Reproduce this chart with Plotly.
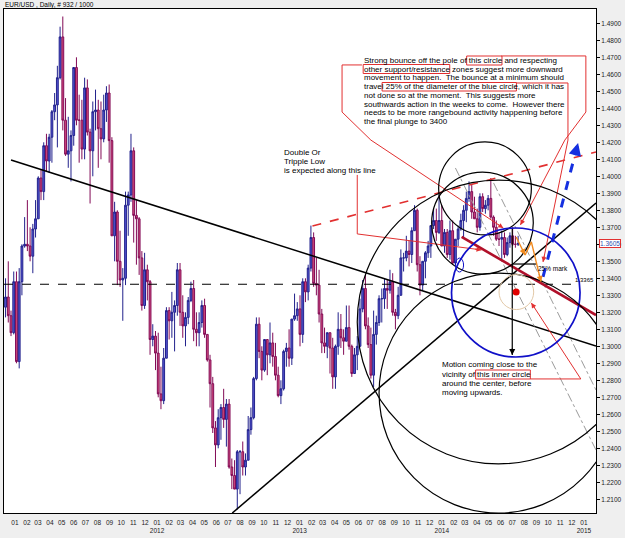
import plotly.graph_objects as go
import pandas as pd

# ---------------- price data (weekly OHLC, EUR/USD) ----------------
OPEN = [1.3230,1.3290,1.3180,1.3080,1.3380,1.2910,1.3380,1.3590,1.3600,1.3590,1.3530,1.3690,1.3750,1.3990,1.3910,1.4180,1.4090,1.4230,1.4380,1.4420,1.4580,1.4820,1.4330,1.4130,1.4150,1.4240,1.4640,1.4330,1.4330,1.4160,1.4520,1.4260,1.4150,1.4380,1.4390,1.4280,1.4220,1.4390,1.4490,1.4210,1.3650,1.3790,1.3500,1.3390,1.3400,1.3830,1.3890,1.4150,1.3770,1.3750,1.3520,1.3240,1.3450,1.3380,1.3040,1.3060,
        1.2960,1.2720,1.2680,1.2930,1.3210,1.3150,1.3200,1.3240,1.3450,1.3200,1.3120,1.3170,1.3270,1.3340,1.3100,1.3080,1.3140,1.3240,1.3070,1.2920,1.2780,1.2520,1.2420,1.2580,1.2640,1.2570,1.2660,1.2290,1.2240,1.2160,1.2380,1.2380,1.2290,1.2330,1.2510,1.2580,1.2810,1.3130,1.2970,1.2860,1.3040,1.2950,1.3020,1.2940,1.2830,1.2710,1.2750,1.2970,1.2990,1.2930,1.3160,1.3180,1.3220,
        1.3070,1.3380,1.3320,1.3460,1.3640,1.3370,1.3360,1.3190,1.3020,1.3000,1.3080,1.2990,1.2820,1.3000,1.3100,1.3050,1.3030,1.3110,1.3000,1.2840,1.2950,1.3000,1.3220,1.3340,1.3120,1.3010,1.2830,1.3070,1.3140,1.3280,1.3280,1.3340,1.3330,1.3380,1.3200,1.3180,1.3300,1.3520,1.3520,1.3560,1.3540,1.3680,1.3800,1.3480,1.3360,1.3500,1.3550,1.3590,1.3710,1.3740,1.3670,1.3740,
        1.3590,1.3670,1.3540,1.3680,1.3490,1.3630,1.3690,1.3740,1.3800,1.3870,1.3910,1.3790,1.3750,1.3700,1.3880,1.3810,1.3830,1.3870,1.3760,1.3700,1.3630,1.3630,1.3640,1.3540,1.3610,1.3650,1.3600,1.3600]
HIGH = [1.3400,1.3500,1.3210,1.3440,1.3440,1.3460,1.3600,1.3760,1.3860,1.3700,1.3720,1.3860,1.4000,1.4040,1.4200,1.4250,1.4250,1.4390,1.4490,1.4650,1.4880,1.4940,1.4460,1.4350,1.4270,1.4640,1.4700,1.4480,1.4450,1.4580,1.4570,1.4280,1.4440,1.4510,1.4450,1.4440,1.4480,1.4530,1.4540,1.4230,1.3850,1.3800,1.3680,1.3460,1.3910,1.3910,1.4250,1.4170,1.3860,1.3760,1.3560,1.3550,1.3480,1.3390,1.3130,1.3090,
        1.3080,1.2880,1.2990,1.3230,1.3230,1.3320,1.3270,1.3490,1.3490,1.3300,1.3200,1.3290,1.3380,1.3390,1.3200,1.3200,1.3270,1.3280,1.3070,1.2950,1.2820,1.2560,1.2630,1.2660,1.2750,1.2690,1.2690,1.2340,1.2330,1.2390,1.2390,1.2440,1.2370,1.2590,1.2640,1.2820,1.3170,1.3170,1.3000,1.3040,1.3040,1.3140,1.3080,1.3020,1.2880,1.2800,1.2980,1.3020,1.3100,1.3160,1.3310,1.3260,1.3300,
        1.3400,1.3400,1.3480,1.3710,1.3670,1.3520,1.3450,1.3220,1.3110,1.3080,1.3080,1.3050,1.3010,1.3200,1.3190,1.3100,1.3240,1.3240,1.3010,1.2990,1.3060,1.3280,1.3390,1.3420,1.3170,1.3110,1.3210,1.3180,1.3300,1.3340,1.3400,1.3390,1.3450,1.3430,1.3220,1.3350,1.3570,1.3550,1.3650,1.3620,1.3700,1.3830,1.3810,1.3530,1.3500,1.3560,1.3620,1.3710,1.3810,1.3810,1.3890,1.3830,
        1.3690,1.3690,1.3740,1.3740,1.3630,1.3710,1.3780,1.3830,1.3910,1.3970,1.3950,1.3880,1.3810,1.3900,1.3900,1.3860,1.3890,1.3990,1.3770,1.3740,1.3670,1.3680,1.3670,1.3640,1.3670,1.3700,1.3650,1.3650]
LOW = [1.3170,1.3140,1.3060,1.3070,1.2900,1.2870,1.3300,1.3580,1.3560,1.3500,1.3430,1.3640,1.3750,1.3860,1.3860,1.4030,1.4020,1.4080,1.4330,1.4170,1.4570,1.4270,1.4120,1.4050,1.3970,1.4180,1.4300,1.4080,1.4100,1.4100,1.4240,1.3840,1.4000,1.4270,1.4050,1.4100,1.4200,1.4320,1.4080,1.3650,1.3500,1.3360,1.3350,1.3150,1.3360,1.3650,1.3850,1.3610,1.3480,1.3420,1.3210,1.3220,1.3270,1.2950,1.3000,1.2860,
       1.2700,1.2630,1.2660,1.2930,1.3040,1.3050,1.2970,1.3180,1.3120,1.3050,1.3000,1.3130,1.3260,1.3030,1.3000,1.3000,1.3110,1.3050,1.2910,1.2640,1.2490,1.2290,1.2400,1.2450,1.2520,1.2410,1.2280,1.2160,1.2160,1.2040,1.2130,1.2240,1.2240,1.2330,1.2480,1.2570,1.2800,1.2930,1.2800,1.2850,1.2830,1.2900,1.2880,1.2800,1.2700,1.2660,1.2740,1.2880,1.2880,1.2890,1.3150,1.3150,1.3000,
       1.3020,1.3260,1.3270,1.3440,1.3350,1.3300,1.3140,1.2960,1.2960,1.2930,1.2840,1.2750,1.2750,1.2950,1.2990,1.2950,1.3030,1.2980,1.2820,1.2840,1.2860,1.3000,1.3200,1.3100,1.2990,1.2810,1.2760,1.3010,1.3120,1.3140,1.3220,1.3220,1.3310,1.3180,1.3100,1.3160,1.3300,1.3440,1.3500,1.3470,1.3490,1.3680,1.3440,1.3300,1.3330,1.3400,1.3520,1.3520,1.3690,1.3620,1.3660,1.3590,
       1.3550,1.3520,1.3510,1.3480,1.3480,1.3590,1.3680,1.3640,1.3730,1.3850,1.3750,1.3750,1.3670,1.3680,1.3790,1.3780,1.3800,1.3750,1.3650,1.3620,1.3590,1.3500,1.3520,1.3530,1.3580,1.3590,1.3580,1.3590]
CLOSE = [1.3290,1.3180,1.3080,1.3380,1.2910,1.3380,1.3590,1.3600,1.3590,1.3530,1.3690,1.3750,1.3990,1.3910,1.4180,1.4090,1.4230,1.4380,1.4420,1.4580,1.4820,1.4330,1.4130,1.4150,1.4240,1.4640,1.4330,1.4330,1.4160,1.4520,1.4260,1.4150,1.4380,1.4390,1.4280,1.4220,1.4390,1.4490,1.4210,1.3650,1.3790,1.3500,1.3390,1.3400,1.3830,1.3890,1.4150,1.3770,1.3750,1.3520,1.3240,1.3450,1.3380,1.3040,1.3060,1.2960,
         1.2720,1.2680,1.2930,1.3210,1.3150,1.3200,1.3240,1.3450,1.3200,1.3120,1.3170,1.3270,1.3340,1.3100,1.3080,1.3140,1.3240,1.3070,1.2920,1.2780,1.2520,1.2420,1.2580,1.2640,1.2570,1.2660,1.2290,1.2240,1.2160,1.2380,1.2380,1.2290,1.2330,1.2510,1.2580,1.2810,1.3130,1.2970,1.2860,1.3040,1.2950,1.3020,1.2940,1.2830,1.2710,1.2750,1.2970,1.2990,1.2930,1.3160,1.3180,1.3220,1.3070,
         1.3380,1.3320,1.3460,1.3640,1.3370,1.3360,1.3190,1.3020,1.3000,1.3080,1.2990,1.2820,1.3000,1.3100,1.3050,1.3030,1.3110,1.3000,1.2840,1.2950,1.3000,1.3220,1.3340,1.3120,1.3010,1.2830,1.3070,1.3140,1.3280,1.3280,1.3340,1.3330,1.3380,1.3200,1.3180,1.3300,1.3520,1.3520,1.3560,1.3540,1.3680,1.3800,1.3480,1.3360,1.3500,1.3550,1.3590,1.3710,1.3740,1.3670,1.3740,1.3590,
         1.3670,1.3540,1.3680,1.3490,1.3630,1.3690,1.3740,1.3800,1.3870,1.3910,1.3790,1.3750,1.3700,1.3880,1.3810,1.3830,1.3870,1.3760,1.3700,1.3630,1.3630,1.3640,1.3540,1.3610,1.3650,1.3600,1.3600,1.3605]
WEEKS = pd.date_range("2010-12-08", periods=len(CLOSE), freq="W-WED")

# ---------------- axis ticks ----------------
MONTH_TICKS = list(pd.date_range("2011-01-01", "2015-01-01", freq="MS"))
MONTH_LABELS = [f"{d.month:02d}" + (f"<br>{d.year}" if d.month == 1 and d.year > 2011 else "") for d in MONTH_TICKS]
X_RANGE = ["2010-12-04", "2015-02-01"]
Y_RANGE = [1.20194, 1.49841]
LAST_PRICE = 1.3605
LEVEL = 1.3365

# ---------------- drawing tools (date, price anchors) ----------------
TREND_DOWN = (["2010-12-22", "2015-02-01"], [1.4096, 1.3002])
TREND_UP = (["2012-07-12", "2015-02-01"], [1.2019, 1.3843])
RED_DASHED = (["2013-02-03", "2015-02-01"], [1.3708, 1.4143])
RED_THICK = (["2014-02-21", "2015-02-01"], [1.3643, 1.3184])
GRAY_1 = (["2014-02-05", "2015-02-01"], [1.4049, 1.2390])
GRAY_2 = (["2014-05-14", "2015-02-01"], [1.3961, 1.2743])
VERT_ARROW = (["2014-07-01", "2014-07-01"], [1.3696, 1.2949])
MARK_25 = (["2014-07-01", "2014-08-31"], [1.3484, 1.3484])
CALLOUT_1 = (["2013-06-10", "2013-04-20", "2013-04-20", "2013-07-03", "2014-06-08"], [1.4655, 1.4655, 1.4378, 1.4213, 1.3696])
CALLOUT_2 = (["2014-06-03", "2015-01-06", "2015-01-06", "2014-11-13", "2014-07-22"], [1.4708, 1.4708, 1.4378, 1.4213, 1.3714])
CALLOUT_3 = (["2014-07-11", "2014-11-21", "2014-11-21", "2014-09-18"], [1.4549, 1.4549, 1.4213, 1.3496])
CALLOUT_4 = (["2013-05-29", "2013-05-29", "2014-04-13"], [1.4008, 1.3661, 1.3567])
CALLOUT_5 = (["2014-08-16", "2014-12-24", "2014-08-19"], [1.2808, 1.2808, 1.3255])
BLUE_ARROW = (["2014-09-18", "2014-12-17"], [1.3408, 1.4196])
ORANGE_PATH = (["2014-07-11", "2014-08-03", "2014-08-19", "2014-09-13"], [1.3643, 1.3537, 1.3614, 1.3378])
CENTER = ("2014-07-11", 1.3319)
# circles: (x0, x1, y0, y1, color, width)
CIRCLES = [
    ("2013-12-24", "2014-08-19", 1.3655, 1.4202, "black", 1.2),
    ("2013-12-06", "2014-08-24", 1.3425, 1.4025, "black", 1.2),
    ("2014-01-26", "2014-12-22", 1.2937, 1.3696, "#1010c8", 1.7),
    ("2013-05-29", "2015-05-24", 1.2308, 1.3978, "black", 1.2),
    ("2013-07-24", "2015-03-29", 1.2019, 1.3431, "black", 1.2),
    ("2014-05-28", "2014-08-25", 1.3216, 1.3422, "#e3c9a8", 1.0),
    ("2014-02-05", "2014-02-26", 1.3437, 1.3519, "#1010c8", 1.0),
]

FONT = "Liberation Sans, Arial, sans-serif"
RED = "#e23030"

fig = go.Figure()
fig.add_trace(go.Candlestick(
    x=WEEKS, open=OPEN, high=HIGH, low=LOW, close=CLOSE,
    increasing=dict(line=dict(color="#22228c", width=1), fillcolor="#5454d2"),
    decreasing=dict(line=dict(color="#820a56", width=1), fillcolor="#d4507e"),
    whiskerwidth=0, hoverinfo="skip"))


def add_path(data, color, width=1, dash="solid"):
    xs, ys = data
    fig.add_trace(go.Scatter(x=xs, y=ys, mode="lines", hoverinfo="skip",
                             line=dict(color=color, width=width, dash=dash)))


add_path(([X_RANGE[0], "2014-12-06"], [LEVEL, LEVEL]), "black", 1.2, "dash")
add_path(TREND_DOWN, "black", 1.5)
add_path(TREND_UP, "black", 1.5)
add_path(GRAY_1, "#9a9a9a", 1, "dashdot")
add_path(GRAY_2, "#9a9a9a", 1, "dashdot")
add_path(RED_DASHED, RED, 1.6, "dash")
add_path(RED_THICK, "#b0102a", 2.6)
add_path(CALLOUT_1, RED, 1)
add_path(CALLOUT_2, RED, 1)
add_path(CALLOUT_3, RED, 1)
add_path(CALLOUT_4, RED, 1)
add_path(CALLOUT_5, RED, 1)
add_path(VERT_ARROW, "black", 1.2)
add_path(MARK_25, "black", 1.2)
add_path(ORANGE_PATH, "#f08a20", 1.4)
add_path(BLUE_ARROW, "#1530e0", 3, "dash")
fig.add_trace(go.Scatter(x=[CENTER[0]], y=[CENTER[1]], mode="markers", hoverinfo="skip",
                         marker=dict(color="#e00000", size=7)))

for x0, x1, y0, y1, col, w in CIRCLES:
    fig.add_shape(type="circle", xref="x", yref="y", x0=x0, x1=x1, y0=y0, y1=y1,
                  line=dict(color=col, width=w))


def head(x, y, ax, ay, color, width=1.0, size=1.0):
    fig.add_annotation(x=x, y=y, xref="x", yref="y", ax=ax, ay=ay, axref="pixel", ayref="pixel",
                       text="", showarrow=True, arrowhead=2, arrowsize=size, arrowwidth=width,
                       arrowcolor=color)


head(CALLOUT_1[0][-1], CALLOUT_1[1][-1], -7, -4.6, RED)
head(CALLOUT_2[0][-1], CALLOUT_2[1][-1], 3.7, -7.1, RED)
head(CALLOUT_3[0][-1], CALLOUT_3[1][-1], 1.6, -7.8, RED)
head(CALLOUT_4[0][-1], CALLOUT_4[1][-1], -7.9, -1, RED)
head(CALLOUT_5[0][-1], CALLOUT_5[1][-1], 4.4, 6.7, RED)
head(BLUE_ARROW[0][-1], BLUE_ARROW[1][-1], -2.5, 9.7, "#1530e0", 2.5, 1)
head(VERT_ARROW[0][-1], VERT_ARROW[1][-1], 0, -8, "black", 1.2)
head(ORANGE_PATH[0][1], ORANGE_PATH[1][1], -3.6, -7.2, "#f08a20", 1.2)
head(ORANGE_PATH[0][-1], ORANGE_PATH[1][-1], -1.9, -7.8, "#f08a20", 1.2)


# ---------------- text ----------------
def pp(px, py):
    return (px - 3) / 595, (513 - py) / 504


def text(px, py, s, size=8, anchor="left", color="black"):
    x, y = pp(px, py)
    fig.add_annotation(x=x, y=y, xref="paper", yref="paper", text=s, showarrow=False,
                       xanchor=anchor, yanchor="middle", borderpad=0,
                       font=dict(family=FONT, size=size, color=color))


def box(x0, y0, x1, y1):
    a, b = pp(x0, y1)
    c, d = pp(x1, y0)
    fig.add_shape(type="rect", xref="paper", yref="paper", x0=a, y0=b, x1=c, y1=d,
                  line=dict(color=RED, width=1))


MAIN_TEXT = [
    "Strong bounce off the pole of this circle and respecting",
    "other support/resistance zones suggest more downward",
    "movement to happen.  The bounce at a minimum should",
    "travel 25% of the diameter of the blue circle, which it has",
    "not done so at the moment.  This suggests more",
    "southwards action in the weeks to come.  However there",
    "needs to be more rangebound activity happening before",
    "the final plunge to 3400",
]
for i, line in enumerate(MAIN_TEXT):
    text(364, 60.5 + i * 8.7, line)
box(468, 56, 503.5, 65)
box(364, 64.5, 451, 73.5)
box(383, 82.5, 518, 91)

for i, line in enumerate(["Double Or", "Tripple Low", "is expected along this line"]):
    text(283, 152 + i * 9, line)

for i, line in enumerate(["Motion coming close to the", "vicinity of this inner circle",
                          "around the center, before", "moving upwards."]):
    text(442, 365 + i * 9, line)
box(477, 370, 532, 379)

text(539, 268, "25% mark", 6.5)
text(597, 280, "1.3365", 6, "right")
text(3, 4.5, "EUR/USD , Daily, # 932 / 1000", 6.5)

fig.add_annotation(x=1.0, xref="paper", y=LAST_PRICE, yref="y", xanchor="left", yanchor="middle",
                   xshift=3, text=f"{LAST_PRICE:.4f}", showarrow=False, bgcolor="white",
                   bordercolor=RED, borderwidth=1, borderpad=0,
                   font=dict(family=FONT, size=6.5, color="#3050b0"))

fig.update_layout(
    width=625, height=538, margin=dict(l=3, r=27, t=9, b=25),
    paper_bgcolor="#efefef", plot_bgcolor="white", showlegend=False, boxgap=0.05,
    font=dict(family=FONT, size=6.5, color="#222222"),
    xaxis=dict(type="date", range=X_RANGE, rangeslider=dict(visible=False),
               tickvals=MONTH_TICKS, ticktext=MONTH_LABELS, ticks="", tickangle=0,
               ticklabelstandoff=3,
               showgrid=False, zeroline=False, showline=True, mirror=True,
               linecolor="black", linewidth=1, tickfont=dict(size=6.5)),
    yaxis=dict(side="right", range=Y_RANGE, tick0=1.21, dtick=0.01, tickformat=".4f",
               ticks="outside", ticklen=3, tickcolor="black", showgrid=False,
               zeroline=False, showline=True, mirror=True, linecolor="black",
               linewidth=1, tickfont=dict(size=6.5)),
)

fig.write_html("out.html")
